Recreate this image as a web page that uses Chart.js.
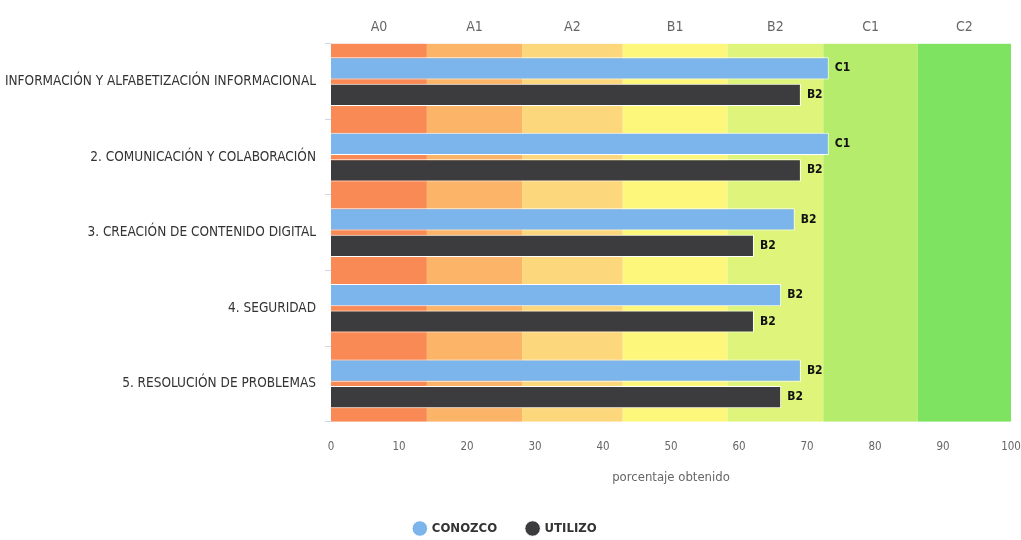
<!DOCTYPE html>
<html lang="es">
<head>
<meta charset="utf-8">
<title>Competencias digitales</title>
<script src="https://cdn.jsdelivr.net/npm/chart.js@4.4.1/dist/chart.umd.min.js"></script>
<style>
  html, body { margin: 0; padding: 0; background: #ffffff; }
  #wrap { width: 1021px; height: 540px; position: relative; }
</style>
</head>
<body>
<div id="wrap"><canvas id="chart"></canvas></div>
<script>
// Competence areas (rows)
const areas = [
  '1. INFORMACIÓN Y ALFABETIZACIÓN INFORMACIONAL',
  '2. COMUNICACIÓN Y COLABORACIÓN',
  '3. CREACIÓN DE CONTENIDO DIGITAL',
  '4. SEGURIDAD',
  '5. RESOLUCIÓN DE PROBLEMAS'
];

// Percentage obtained per area
const conozco = [73.2, 73.2, 68.2, 66.2, 69.1];
const utilizo = [69.1, 69.1, 62.2, 62.2, 66.2];

// Proficiency levels and their percentage limits
const levels = ['A0', 'A1', 'A2', 'B1', 'B2', 'C1', 'C2'];
const levelLimits = [0, 14.1, 28.1, 42.9, 58.3, 72.4, 86.3, 100];
const levelColors = ['#fa8a55', '#fbb468', '#fdd77c', '#fdf77c', '#def47a', '#b6ec6c', '#7fe362'];

// Bottom axis ticks
const percentTicks = [0, 10, 20, 30, 40, 50, 60, 70, 80, 90, 100];

const levelCenters = levels.map((_, i) => (levelLimits[i] + levelLimits[i + 1]) / 2);

function levelOf(v) {
  for (let i = 0; i < levels.length; i++) {
    if (v < levelLimits[i + 1]) return levels[i];
  }
  return levels[levels.length - 1];
}

const FONT = "'DejaVu Sans Condensed', 'Liberation Sans', sans-serif";

// Coloured level bands behind the bars
const levelBands = {
  id: 'levelBands',
  beforeDatasetsDraw(chart) {
    const { ctx, chartArea } = chart;
    const x = chart.scales.x;
    ctx.save();
    for (let i = 0; i < levels.length; i++) {
      const x0 = x.getPixelForValue(levelLimits[i]);
      const x1 = x.getPixelForValue(levelLimits[i + 1]);
      ctx.fillStyle = levelColors[i];
      ctx.fillRect(x0, chartArea.top, x1 - x0, chartArea.bottom - chartArea.top);
    }
    ctx.restore();
  }
};

// Level reached written at the end of each bar
const levelLabels = {
  id: 'levelLabels',
  afterDatasetsDraw(chart) {
    const { ctx } = chart;
    ctx.save();
    ctx.font = 'bold 12px ' + FONT;
    ctx.fillStyle = '#111111';
    ctx.textAlign = 'left';
    ctx.textBaseline = 'middle';
    chart.data.datasets.forEach((ds, di) => {
      const meta = chart.getDatasetMeta(di);
      if (meta.hidden) return;
      meta.data.forEach((bar, i) => {
        ctx.fillText(levelOf(ds.data[i]), bar.x + 6, bar.y);
      });
    });
    ctx.restore();
  }
};

new Chart(document.getElementById('chart'), {
  type: 'bar',
  data: {
    labels: areas,
    datasets: [
      {
        label: 'CONOZCO',
        data: conozco,
        backgroundColor: '#7cb5ec',
        borderColor: '#ffffff',
        borderWidth: 1,
        categoryPercentage: 0.7,
        barPercentage: 0.84
      },
      {
        label: 'UTILIZO',
        data: utilizo,
        backgroundColor: '#3c3c3e',
        borderColor: '#ffffff',
        borderWidth: 1,
        categoryPercentage: 0.7,
        barPercentage: 0.84
      }
    ]
  },
  options: {
    indexAxis: 'y',
    responsive: true,
    maintainAspectRatio: false,
    animation: false,
    layout: { padding: { top: 19, right: 10, left: 0, bottom: -5 } },
    scales: {
      x: {
        type: 'linear',
        position: 'bottom',
        min: 0,
        max: 100,
        grid: { display: false },
        border: { display: false },
        afterBuildTicks(scale) {
          scale.ticks = percentTicks.map(v => ({ value: v }));
        },
        afterFit(scale) {
          scale.paddingLeft = 0;
          scale.paddingRight = 0;
        },
        ticks: {
          color: '#666666',
          padding: 11,
          font: { family: FONT, size: 11.5 },
          maxRotation: 0,
          autoSkip: false
        },
        title: {
          display: true,
          text: 'porcentaje obtenido',
          color: '#666666',
          font: { family: FONT, size: 13 },
          padding: { top: 4, bottom: 7 }
        }
      },
      xTop: {
        type: 'linear',
        position: 'top',
        min: 0,
        max: 100,
        grid: { display: false },
        border: { display: false },
        afterBuildTicks(scale) {
          scale.ticks = levelCenters.map(v => ({ value: v }));
        },
        afterFit(scale) {
          scale.paddingLeft = 0;
          scale.paddingRight = 0;
        },
        ticks: {
          color: '#666666',
          padding: 0,
          autoSkip: false,
          maxRotation: 0,
          font: { family: FONT, size: 14 },
          callback: (v, i) => levels[i]
        }
      },
      y: {
        type: 'category',
        afterFit(scale) { scale.width = 331; },
        grid: {
          display: true,
          drawOnChartArea: false,
          drawTicks: true,
          tickLength: 6,
          color: '#ccd6eb'
        },
        border: { display: false },
        ticks: {
          color: '#333333',
          padding: 9,
          font: { family: FONT, size: 13.5 }
        }
      }
    },
    plugins: {
      legend: {
        position: 'bottom',
        labels: {
          usePointStyle: true,
          pointStyle: 'circle',
          boxWidth: 11,
          boxHeight: 11,
          padding: 30,
          color: '#333333',
          font: { family: FONT, size: 13, weight: 'bold' }
        }
      },
      tooltip: { enabled: false }
    }
  },
  plugins: [levelBands, levelLabels]
});
</script>
</body>
</html>
